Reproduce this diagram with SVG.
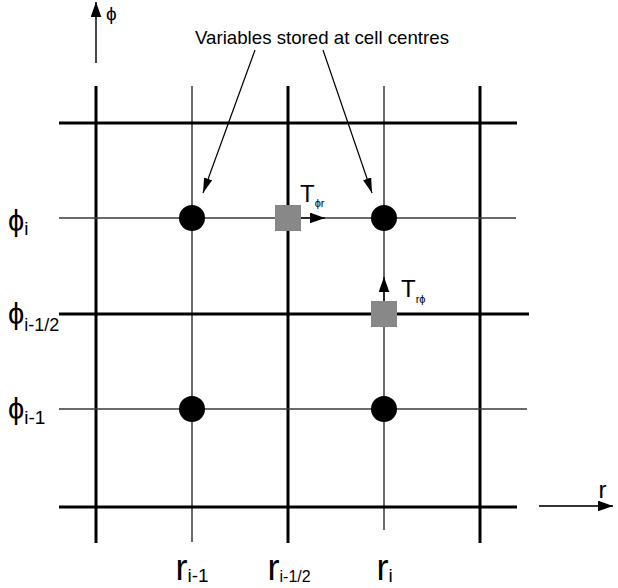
<svg xmlns="http://www.w3.org/2000/svg" width="618" height="588" viewBox="0 0 618 588">
<defs>
<style>
.thick{stroke:#000;stroke-width:3;fill:none}
.thin{stroke:#383838;stroke-width:1.5;fill:none}
.cell{fill:#000}
.face{fill:#888}
.lbl{font-family:"Liberation Sans",Arial,"DejaVu Sans",sans-serif;fill:#000}
.ptr{stroke:#000;stroke-width:1.2;fill:none}
.axis{stroke:#333;stroke-width:1.8;fill:none}
</style>
<marker id="ah" markerUnits="userSpaceOnUse" markerWidth="15" markerHeight="11" refX="14" refY="5" orient="auto" viewBox="0 0 14 10"><path d="M0,0 L14,5 L0,10 Z" fill="#000"/></marker>
<marker id="ahs" markerUnits="userSpaceOnUse" markerWidth="15" markerHeight="9" refX="14" refY="4" orient="auto" viewBox="0 0 14 8"><path d="M0,0 L14,4 L0,8 Z" fill="#000"/></marker>
</defs>
<rect width="618" height="588" fill="#fff"/>
<g id="grid">
<line class="thick" x1="96" y1="86" x2="96" y2="543"/>
<line class="thin" x1="192" y1="86" x2="192" y2="542"/>
<line class="thick" x1="288" y1="86" x2="288" y2="543"/>
<line class="thin" x1="384" y1="86" x2="384" y2="530"/>
<line class="thick" x1="480" y1="86" x2="480" y2="543"/>
<line class="thick" x1="59" y1="123" x2="517" y2="123"/>
<line class="thin" x1="59" y1="218" x2="516" y2="218"/>
<line class="thick" x1="59" y1="314" x2="529" y2="314"/>
<line class="thin" x1="59" y1="409" x2="527" y2="409"/>
<line class="thick" x1="59" y1="507" x2="517" y2="507"/>
</g>
<g id="connectors">
<path class="axis" d="M96,63 V2" marker-end="url(#ah)"/>
<path class="axis" d="M539,506 H613" marker-end="url(#ah)"/>
<path class="ptr" d="M255,50 L203,193" marker-end="url(#ahs)"/>
<path class="ptr" d="M323,50 L372,193" marker-end="url(#ahs)"/>
<path class="ptr" d="M301,218 H325" marker-end="url(#ah)"/>
<path class="ptr" d="M384,301 V277" marker-end="url(#ah)"/>
</g>
<g id="cell-i-1-i"><circle class="cell" cx="192" cy="218" r="13"/></g>
<g id="cell-i-i"><circle class="cell" cx="384" cy="218" r="13"/></g>
<g id="cell-i-1-i-1"><circle class="cell" cx="192" cy="409" r="13"/></g>
<g id="cell-i-i-1"><circle class="cell" cx="384" cy="409" r="13"/></g>
<g id="face-phir"><rect class="face" x="275" y="205" width="26" height="26"/></g>
<g id="face-rphi"><rect class="face" x="371" y="301" width="26" height="26"/></g>
<g id="labels" class="lbl">
<text x="195" y="44" font-size="19" textLength="254" lengthAdjust="spacingAndGlyphs">Variables stored at cell centres</text>
<text x="106" y="20" font-size="19">ϕ</text>
<text x="598.5" y="498" font-size="24">r</text>
<text x="300" y="202" font-size="24">T<tspan font-size="11" dy="5">ϕr</tspan></text>
<text x="401" y="297" font-size="24">T<tspan font-size="11" dy="6">rϕ</tspan></text>
<text x="8" y="231" font-size="29">ϕ<tspan font-size="19" dy="4">i</tspan></text>
<text x="8" y="324" font-size="29">ϕ<tspan font-size="18" dy="7">i-1/2</tspan></text>
<text x="8" y="419" font-size="29">ϕ<tspan font-size="19" dy="5">i-1</tspan></text>
<text x="175.5" y="580" font-size="36">r<tspan font-size="19" dy="2">i-1</tspan></text>
<text x="267.5" y="580" font-size="36">r<tspan font-size="16" dy="2">i-1/2</tspan></text>
<text x="376.5" y="580" font-size="36">r<tspan font-size="19" dy="2">i</tspan></text>
</g>
</svg>
